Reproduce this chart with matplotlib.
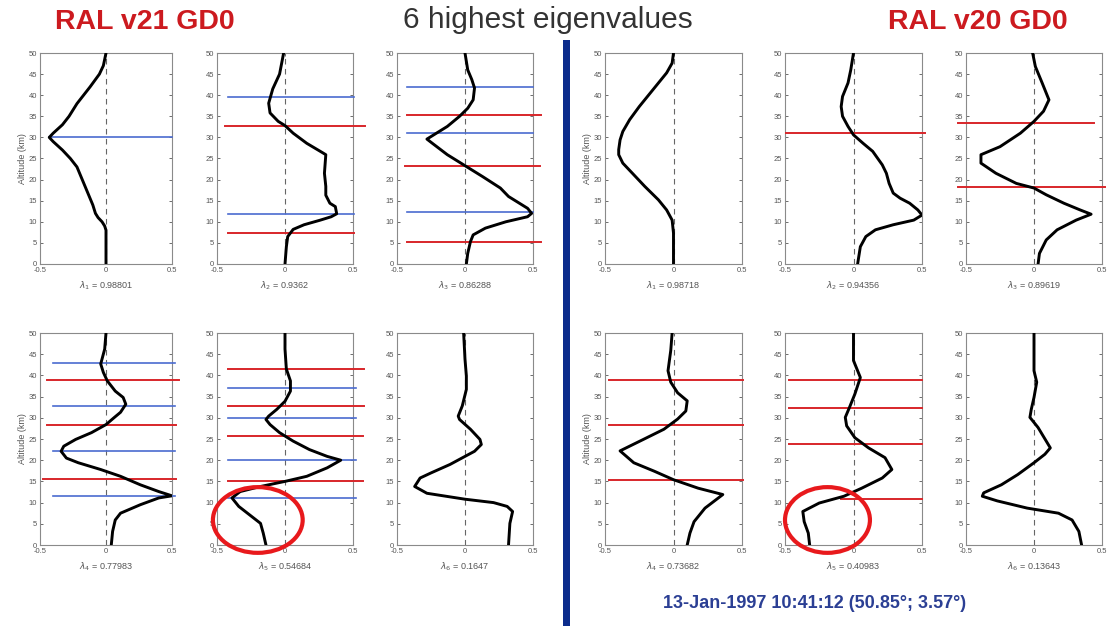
import matplotlib
matplotlib.use("Agg")
import matplotlib.pyplot as plt
from matplotlib.patches import Ellipse, Rectangle

plt.rcParams['font.family'] = ['Liberation Sans', 'DejaVu Sans']

# ---- data: eigenvector profiles (altitude km, value) ----
# RAL v21 GD0
alt_a1 = [50, 47, 45, 42, 40, 38, 35, 33, 31, 30, 29, 27, 25, 23, 20, 17, 14, 12, 11, 10, 9, 8, 5, 0]
val_a1 = [0.0, -0.02, -0.05, -0.12, -0.17, -0.22, -0.28, -0.33, -0.40, -0.43, -0.40, -0.33, -0.27,
          -0.22, -0.18, -0.14, -0.10, -0.08, -0.06, -0.03, -0.01, 0.0, 0.0, 0.0]
alt_a2 = [50, 45, 41.5, 38.1, 35.8, 33.8, 32.8, 31.0, 28.6, 26.3, 25.9, 21.5, 18.4, 16.3, 14.4, 13.6,
          11.9, 11.2, 10.4, 9.3, 8.2, 6.5, 4.1, 0]
val_a2 = [-0.01, -0.04, -0.09, -0.12, -0.11, -0.05, 0.0, 0.06, 0.16, 0.28, 0.30, 0.29, 0.30, 0.30,
          0.33, 0.37, 0.38, 0.34, 0.26, 0.14, 0.06, 0.02, 0.01, 0.0]
alt_a3 = [50, 46, 43.7, 41.7, 38.9, 36.9, 35, 32.6, 30.6, 29.6, 28.6, 25.9, 23.3, 20.7, 18.0, 16.0,
          14.8, 13.2, 12.0, 11.2, 10.0, 8.5, 6.9, 5.3, 2.5, 0]
val_a3 = [0.0, 0.02, 0.05, 0.07, 0.06, 0.02, -0.04, -0.13, -0.23, -0.28, -0.24, -0.13, 0.0, 0.13,
          0.26, 0.32, 0.38, 0.46, 0.49, 0.46, 0.30, 0.15, 0.06, 0.04, 0.02, 0.01]
alt_a4 = [50, 46.2, 42.7, 40.7, 38.7, 36.3, 34.8, 33.2, 31.3, 30.0, 28.4, 26.5, 24.9, 23.3, 22.1,
          20.5, 19.4, 17.8, 16.2, 14.2, 12.6, 11.6, 11.1, 9.5, 7.5, 5.9, 3.2, 0]
val_a4 = [0.0, -0.01, -0.04, -0.02, 0.01, 0.07, 0.13, 0.15, 0.11, 0.06, 0.0, -0.11, -0.23, -0.32,
          -0.34, -0.30, -0.21, -0.04, 0.11, 0.26, 0.40, 0.50, 0.40, 0.26, 0.11, 0.07, 0.05, 0.04]
alt_a5 = [50, 46.2, 41.5, 38.7, 36.3, 33.9, 32.0, 30.4, 29.6, 28.4, 26.5, 24.5, 22.5, 20.9, 20.0,
          18.2, 16.2, 15.0, 13.8, 12.6, 11.1, 9.1, 7.1, 5.1, 2.8, 0]
val_a5 = [0.0, 0.0, 0.01, 0.04, 0.04, 0.0, -0.06, -0.12, -0.14, -0.11, -0.04, 0.06, 0.18, 0.31, 0.41,
          0.31, 0.16, 0.0, -0.18, -0.33, -0.39, -0.34, -0.26, -0.18, -0.16, -0.14]
alt_a6 = [50, 43.8, 39.9, 36.7, 32.8, 30.4, 29.6, 27.3, 24.9, 23.7, 22.1, 20.9, 19.0, 17.0, 15.8,
          13.8, 12.2, 11.5, 10.8, 10.0, 9.1, 7.9, 5.1, 0]
val_a6 = [-0.01, 0.0, 0.01, 0.01, -0.02, -0.05, -0.04, 0.04, 0.11, 0.12, 0.07, 0.0, -0.11, -0.25,
          -0.33, -0.37, -0.28, -0.14, 0.0, 0.21, 0.31, 0.35, 0.33, 0.32]
# RAL v20 GD0
alt_b1 = [50, 47.6, 45.3, 42.9, 40.1, 37.3, 34.2, 31.4, 29.4, 27.1, 25.9, 23.9, 21.5, 18.4, 15.2,
          12.8, 10.4, 7.3, 0]
val_b1 = [0.0, -0.01, -0.05, -0.11, -0.18, -0.25, -0.32, -0.37, -0.39, -0.40, -0.40, -0.37, -0.30,
          -0.21, -0.11, -0.05, -0.01, 0.0, 0.0]
alt_b2 = [50, 46, 42.9, 39.7, 37.3, 35.0, 32.6, 30.6, 28.6, 26.7, 23.5, 21.5, 19.1, 16.8, 15.6, 14.4,
          12.8, 11.6, 10.4, 9.3, 8.1, 6.5, 4.1, 0]
val_b2 = [0.0, -0.02, -0.04, -0.08, -0.09, -0.08, -0.04, 0.0, 0.07, 0.14, 0.21, 0.24, 0.26, 0.29,
          0.34, 0.41, 0.47, 0.50, 0.44, 0.29, 0.16, 0.09, 0.05, 0.03]
alt_b3 = [50, 46.8, 42.9, 38.9, 36.2, 33.8, 31.0, 27.8, 25.9, 23.9, 21.5, 19.1, 18.0, 16.4, 14.4,
          12.8, 11.8, 10.4, 8.1, 5.7, 2.5, 0]
val_b3 = [-0.01, 0.01, 0.06, 0.11, 0.07, 0.0, -0.10, -0.25, -0.39, -0.39, -0.28, -0.13, 0.0, 0.09,
          0.22, 0.34, 0.42, 0.31, 0.17, 0.09, 0.04, 0.03]
alt_b4 = [50, 45.9, 41.1, 38.4, 35.9, 34.0, 31.6, 29.7, 27.3, 24.9, 22.2, 19.4, 17.4, 15.4, 13.4,
          11.9, 8.7, 5.5, 2.8, 0]
val_b4 = [-0.01, -0.02, -0.04, -0.02, 0.03, 0.10, 0.09, 0.03, -0.07, -0.22, -0.39, -0.29, -0.14, 0.0,
          0.18, 0.36, 0.23, 0.15, 0.12, 0.10]
alt_b5 = [50, 43.5, 39.5, 35.6, 32.4, 30.1, 28.1, 25.3, 22.9, 20.6, 17.8, 15.8, 13.4, 11.5, 9.9, 7.9,
          5.5, 2.8, 0]
val_b5 = [0.0, 0.0, 0.05, 0.01, -0.03, -0.06, -0.05, 0.01, 0.11, 0.23, 0.28, 0.21, 0.06, -0.07,
          -0.25, -0.37, -0.36, -0.33, -0.32]
alt_b6 = [50, 41.1, 38.4, 34.8, 32.0, 30.1, 27.7, 24.5, 22.9, 21.4, 19.4, 16.6, 14.2, 12.3, 11.5,
          10.4, 8.7, 7.5, 5.9, 3.2, 0]
val_b6 = [0.0, 0.0, 0.02, 0.0, -0.02, -0.03, 0.03, 0.09, 0.12, 0.08, 0.0, -0.12, -0.24, -0.37, -0.38,
          -0.27, -0.05, 0.18, 0.28, 0.33, 0.35]

eig_v21 = ['0.98801', '0.9362', '0.86288', '0.77983', '0.54684', '0.1647']
eig_v20 = ['0.98718', '0.94356', '0.89619', '0.73682', '0.40983', '0.13643']

# marker levels (altitude, x start, x end)
blue_a = [[(30.0, -0.43, 0.5)],
          [(39.6, -0.42, 0.51), (11.9, -0.42, 0.51)],
          [(41.9, -0.43, 0.5), (31.0, -0.43, 0.5), (12.4, -0.43, 0.5)],
          [(43.0, -0.40, 0.52), (32.8, -0.40, 0.52), (22.1, -0.40, 0.52), (11.5, -0.40, 0.52)],
          [(37.1, -0.42, 0.52), (29.9, -0.42, 0.52), (20.0, -0.42, 0.52), (11.2, -0.42, 0.52)],
          []]
red_a = [[],
         [(32.8, -0.44, 0.59), (7.3, -0.42, 0.51)],
         [(35.2, -0.43, 0.56), (23.3, -0.44, 0.55), (5.3, -0.43, 0.56)],
         [(38.9, -0.45, 0.55), (28.4, -0.45, 0.53), (15.6, -0.48, 0.53)],
         [(41.5, -0.42, 0.58), (32.8, -0.42, 0.58), (25.8, -0.42, 0.57), (15.0, -0.42, 0.57)],
         []]
red_b = [[],
         [(31.0, -0.49, 0.52)],
         [(33.4, -0.56, 0.44), (18.2, -0.56, 0.52)],
         [(39.0, -0.47, 0.51), (28.2, -0.47, 0.51), (15.4, -0.47, 0.51)],
         [(39.0, -0.47, 0.50), (32.4, -0.47, 0.50), (23.9, -0.47, 0.50), (10.9, -0.09, 0.50)],
         []]

alts_a = [alt_a1, alt_a2, alt_a3, alt_a4, alt_a5, alt_a6]
vals_a = [val_a1, val_a2, val_a3, val_a4, val_a5, val_a6]
alts_b = [alt_b1, alt_b2, alt_b3, alt_b4, alt_b5, alt_b6]
vals_b = [val_b1, val_b2, val_b3, val_b4, val_b5, val_b6]

W, H = 1109, 626
fig = plt.figure(figsize=(W / 100, H / 100), dpi=100)
fig.patch.set_facecolor('white')

# pixel boxes for the panels
cols_a = [(40, 172), (217, 353), (397, 533)]
cols_b = [(605, 742), (785, 922), (966, 1102)]
rows = [(53, 264), (333, 545)]

RED = '#d8262a'
BLUE = '#4a6bd0'


def make_ax(x0, x1, y0, y1):
    ax = fig.add_axes([x0 / W, 1 - y1 / H, (x1 - x0) / W, (y1 - y0) / H])
    ax.set_xlim(-0.5, 0.5)
    ax.set_ylim(0, 50)
    ax.set_xticks([-0.5, 0, 0.5])
    ax.set_xticklabels(['-0.5', '0', '0.5'])
    ax.set_yticks(range(0, 51, 5))
    ax.tick_params(direction='in', length=2, width=0.6, labelsize=5.5, colors='#555555',
                   top=True, right=True, pad=2)
    for s in ax.spines.values():
        s.set_color('#8a8a8a')
        s.set_linewidth(0.8)
    ax.axvline(0, color='#666666', ls=(0, (5, 4)), lw=0.8)
    return ax


def draw_group(cols, alts, vals, eigs, blues, reds, circle):
    for i in range(6):
        r, c = divmod(i, 3)
        ax = make_ax(cols[c][0], cols[c][1], rows[r][0], rows[r][1])
        for y, xa, xb in reds[i]:
            ax.plot([xa, xb], [y, y], color=RED, lw=1.4, clip_on=False, zorder=3)
        for y, xa, xb in blues[i]:
            ax.plot([xa, xb], [y, y], color=BLUE, lw=1.2, clip_on=False, zorder=3)
        ax.plot(vals[i], alts[i], color='black', lw=2.1, zorder=4, solid_joinstyle='round')
        if c == 0:
            ax.set_ylabel('Altitude (km)', fontsize=6.5, color='#555555', labelpad=1)
        ax.set_xlabel(r'$\lambda_{%d}$ = %s' % (i + 1, eigs[i]), fontsize=6.5, color='#555555',
                      labelpad=4)
        if i == 4:
            ax.add_patch(Ellipse(circle[:2], circle[2], circle[3], fill=False, ec='#e8191c',
                                 lw=3, clip_on=False, zorder=5))


draw_group(cols_a, alts_a, vals_a, eig_v21, blue_a, red_a, (-0.20, 5.9, 0.66, 15.5))
draw_group(cols_b, alts_b, vals_b, eig_v20, [[]] * 6, red_b, (-0.19, 5.9, 0.62, 15.5))

# divider bar
fig.add_artist(Rectangle((563 / W, 0), 7 / W, (H - 40) / H, transform=fig.transFigure,
                         color='#0b2c8c', lw=0))

fig.text(145 / W, 1 - 22 / H, 'RAL v21 GD0', color='#cc1a1f', fontsize=20.5, fontweight='bold',
         ha='center', va='center')
fig.text(548 / W, 1 - 20 / H, '6 highest eigenvalues', color='#333333', fontsize=21.5,
         ha='center', va='center')
fig.text(978 / W, 1 - 22 / H, 'RAL v20 GD0', color='#cc1a1f', fontsize=20.5, fontweight='bold',
         ha='center', va='center')
fig.text(815 / W, 1 - 604 / H, '13-Jan-1997 10:41:12 (50.85°; 3.57°)', color='#2b3f94',
         fontsize=13, fontweight='bold', ha='center', va='center')

fig.savefig('out.png', dpi=100)
